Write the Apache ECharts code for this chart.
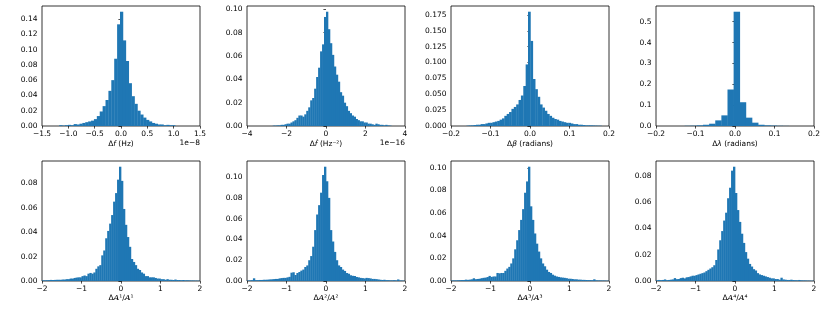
<!DOCTYPE html>
<html><head><meta charset="utf-8">
<script src="https://cdn.jsdelivr.net/npm/echarts@6/dist/echarts.min.js"></script>
<style>html,body{margin:0;padding:0;background:#fff}#c{width:830px;height:312px}</style>
</head><body><div id="c"></div>
<script>
// ---------- DATA ----------
// Panel order: row 1 = Δf, Δḟ, Δβ, Δλ ; row 2 = ΔA1/A1 .. ΔA4/A4
const binStart = [-1.174, -2.7, -0.161, -0.1275, -2, -2, -2, -2];
const binWidth = [0.055, 0.1, 0.006, 0.0155, 0.05, 0.05, 0.05, 0.05];

const histDf = [0.001,0.0005,0.001,0.0015,0.001,0.0025,0.002,0.003,0.004,0.005,0.006,0.007,0.009,0.013,0.019,0.026,0.034,0.046,0.060,0.088,0.133,
  0.1495,0.112,0.085,0.056,0.039,0.029,0.020,0.015,0.011,0.008,0.006,0.004,0.003,0.002,0.002,0.001,0.0015,0.001,0.001];
const histDfdot = [0.0003,0.0003,0.0005,0.0005,0.001,0.001,0.0015,0.002,0.002,0.003,0.004,0.005,0.007,0.009,0.009,0.008,0.010,0.013,0.016,0.022,0.024,0.032,0.042,0.050,0.064,0.070,0.0935,
  0.098,0.083,0.071,0.061,0.051,0.044,0.038,0.029,0.026,0.020,0.017,0.013,0.011,0.009,0.008,0.006,0.005,0.004,0.004,0.003,0.003,0.002,0.002,0.0015,0.001,0.002,0.0015,0.001,0.001,0.0005,0.001,0.0005,0.0003];
const histBeta = [0.0005,0.0008,0.001,0.0015,0.002,0.002,0.003,0.003,0.004,0.005,0.005,0.006,0.007,0.008,0.010,0.012,0.016,0.019,0.022,0.027,0.030,0.034,0.041,0.048,0.063,0.097,
  0.180,0.134,0.074,0.058,0.046,0.034,0.029,0.024,0.019,0.016,0.013,0.011,0.010,0.008,0.007,0.006,0.005,0.005,0.004,0.003,0.003,0.002,0.002,0.0015,0.001,0.001,0.001,0.0008,0.0006,0.0005,0.0004];
const histLambda = [0.001,0.0015,0.003,0.006,0.011,0.027,0.051,0.175,0.548,0.114,0.040,0.016,0.006,0.003,0.002,0.001,0.0005];
const histA1 = [0.0005,0.0005,0.0006,0.0007,0.0009,0.0008,0.0009,0.001,0.001,0.001,0.0012,0.0012,0.0015,0.0015,0.002,0.002,0.0025,0.0028,0.003,0.003,0.004,0.0045,0.004,0.006,0.0066,0.006,0.007,0.010,0.012,0.013,0.021,0.025,0.035,0.041,0.047,0.054,0.065,0.072,0.083,0.0936,
  0.082,0.059,0.046,0.036,0.028,0.018,0.0156,0.013,0.010,0.009,0.007,0.006,0.004,0.004,0.003,0.003,0.003,0.0025,0.002,0.002,0.0015,0.0015,0.001,0.0015,0.001,0.001,0.0008,0.0012,0.0008,0.0008,0.0006,0.0008,0.0005,0.0006,0.0005,0.0004,0.0004,0.0003,0.0003,0.0002];
const histA2 = [0.0005,0.0006,0.0008,0.0026,0.0008,0.0008,0.001,0.001,0.0012,0.0012,0.0013,0.0015,0.0016,0.0018,0.002,0.002,0.0025,0.0028,0.003,0.003,0.0035,0.004,0.008,0.0084,0.0058,0.0077,0.0087,0.010,0.011,0.0135,0.015,0.020,0.024,0.033,0.049,0.064,0.073,0.085,0.102,0.110,
  0.096,0.080,0.049,0.038,0.028,0.020,0.015,0.0135,0.011,0.0097,0.0077,0.007,0.0055,0.005,0.0048,0.0039,0.0035,0.003,0.0028,0.0025,0.003,0.0028,0.0025,0.002,0.002,0.0018,0.0015,0.0012,0.001,0.0012,0.0008,0.0008,0.0006,0.0006,0.0008,0.0005,0.0015,0.0005,0.0004,0.0003];
const histA3 = [0.0004,0.0005,0.0005,0.0006,0.0007,0.0008,0.0008,0.0012,0.001,0.0012,0.0015,0.0024,0.0016,0.0018,0.002,0.0025,0.0028,0.003,0.0035,0.0045,0.0036,0.004,0.004,0.0071,0.0068,0.0071,0.0071,0.009,0.011,0.0125,0.0155,0.020,0.028,0.036,0.045,0.054,0.0635,0.078,0.088,0.101,
  0.066,0.054,0.042,0.033,0.026,0.020,0.0155,0.013,0.010,0.008,0.0071,0.0056,0.0047,0.004,0.0036,0.0032,0.003,0.0028,0.0025,0.002,0.002,0.0018,0.0015,0.0015,0.0012,0.0012,0.001,0.001,0.0009,0.0008,0.0008,0.0007,0.0015,0.0006,0.0005,0.0005,0.0004,0.0004,0.0003,0.0003];
const histA4 = [0.0005,0.0008,0.0006,0.0008,0.0012,0.0006,0.0008,0.001,0.0012,0.0022,0.0014,0.0015,0.0022,0.0025,0.002,0.0028,0.003,0.0035,0.004,0.004,0.0045,0.005,0.0055,0.006,0.0065,0.0075,0.0085,0.0095,0.0105,0.012,0.016,0.024,0.031,0.038,0.046,0.052,0.063,0.071,0.084,0.087,
  0.067,0.054,0.045,0.036,0.029,0.022,0.017,0.013,0.011,0.009,0.008,0.006,0.005,0.0045,0.004,0.0035,0.003,0.0025,0.002,0.002,0.0015,0.0015,0.001,0.0025,0.0012,0.001,0.0008,0.0008,0.001,0.0007,0.0006,0.0005,0.0008,0.0005,0.0004,0.0004,0.0003,0.0003,0.0002,0.0002];

const xRange = [[-1.5,1.5],[-4,4],[-0.2,0.2],[-0.2,0.2],[-2,2],[-2,2],[-2,2],[-2,2]];
const xTicks = [[-1.5,-1.0,-0.5,0,0.5,1.0,1.5],[-4,-2,0,2,4],[-0.2,-0.1,0,0.1,0.2],[-0.2,-0.1,0,0.1,0.2],
  [-2,-1,0,1,2],[-2,-1,0,1,2],[-2,-1,0,1,2],[-2,-1,0,1,2]];
const yTicks = [[0,0.02,0.04,0.06,0.08,0.10,0.12,0.14],[0,0.02,0.04,0.06,0.08,0.10],[0,0.025,0.05,0.075,0.1,0.125,0.15,0.175],[0,0.1,0.2,0.3,0.4,0.5],
  [0,0.02,0.04,0.06,0.08],[0,0.02,0.04,0.06,0.08,0.10],[0,0.02,0.04,0.06,0.08,0.10],[0,0.02,0.04,0.06,0.08]];
const xDecimals = [1,0,1,1,0,0,0,0];
const yDecimals = [2,2,3,1,2,2,2,2];
const xTitles = ['{n|Δ}{i|f}{n| (Hz)}','{n|Δ}{i|ḟ}{n| (Hz⁻²)}','{n|Δ}{i|β}{n| (radians)}','{n|Δ}{i|λ}{n| (radians)}',
  '{n|Δ}{a|A}{n|¹/}{a|A}{n|¹}','{n|Δ}{a|A}{n|²/}{a|A}{n|²}','{n|Δ}{a|A}{n|³/}{a|A}{n|³}','{n|Δ}{a|A}{n|⁴/}{a|A}{n|⁴}'];
const offsetTexts = ['1e−8','1e−16','','','','','',''];
const hists = [histDf, histDfdot, histBeta, histLambda, histA1, histA2, histA3, histA4];

// ---------- LAYOUT ----------
const colLeft = [42, 247, 451, 656];
const rowTop = [6, 161];
const W = 158, H = 120;
const FS = 7.5;
const FONT = 'DejaVu Sans';
const fmt = (v, d) => (v < 0 ? '\u2212' : '') + Math.abs(v).toFixed(d);

const grids = [], xAxes = [], yAxes = [], series = [], graphics = [];
hists.forEach((vals, i) => {
  const r = Math.floor(i / 4), c = i % 4;
  grids.push({left: colLeft[c], top: rowTop[r], width: W, height: H, show: true,
    borderColor: '#000', borderWidth: 0.8, backgroundColor: 'transparent', containLabel: false});
  xAxes.push({type: 'value', gridIndex: i, min: xRange[i][0], max: xRange[i][1],
    axisLine: {show: false}, splitLine: {show: false},
    axisTick: {show: true, length: 2.6, customValues: xTicks[i], lineStyle: {color: '#000', width: 0.7}},
    axisLabel: {show: true, customValues: xTicks[i], margin: 4.5, color: '#000', fontSize: FS, fontFamily: FONT,
      formatter: v => fmt(v, xDecimals[i])},
    name: xTitles[i], nameLocation: 'middle', nameGap: r === 0 ? 14 : 12,
    nameTextStyle: {color: '#000', fontSize: FS, fontFamily: FONT,
      rich: {n: {fontSize: FS, fontFamily: FONT, color: '#000'},
             i: {fontSize: FS, fontFamily: FONT, fontStyle: 'italic', color: '#000'},
             a: {fontSize: FS + 0.5, fontFamily: 'DejaVu Serif', fontStyle: 'italic', color: '#000'}}}
  });
  const peak = Math.max(...vals);
  yAxes.push({type: 'value', gridIndex: i, min: 0, max: peak * 1.05,
    axisLine: {show: false}, splitLine: {show: false},
    axisTick: {show: true, length: 2.6, customValues: yTicks[i], lineStyle: {color: '#000', width: 0.7}},
    axisLabel: {show: true, customValues: yTicks[i], margin: 4.5, color: '#000', fontSize: FS, fontFamily: FONT,
      formatter: v => fmt(v, yDecimals[i])}
  });
  const data = vals.map((v, k) => [binStart[i] + k * binWidth[i], binStart[i] + (k + 1) * binWidth[i], v]);
  series.push({type: 'custom', xAxisIndex: i, yAxisIndex: i, clip: true, silent: true,
    encode: {x: [0, 1], y: 2}, data: data,
    renderItem: (params, api) => {
      const p0 = api.coord([api.value(0), api.value(2)]);
      const p1 = api.coord([api.value(1), 0]);
      return {type: 'rect', shape: {x: p0[0], y: p0[1], width: p1[0] - p0[0] + 0.35, height: p1[1] - p0[1]},
        style: {fill: '#1f77b4'}};
    }
  });
  if (offsetTexts[i]) {
    graphics.push({type: 'text', x: colLeft[c] + W, y: rowTop[r] + H + 17.5,
      style: {text: offsetTexts[i], align: 'right', verticalAlign: 'middle', fill: '#000', fontSize: FS, fontFamily: FONT}});
  }
});

const chart = echarts.init(document.getElementById('c'), null, {renderer: 'canvas'});
chart.setOption({animation: false, backgroundColor: '#fff', grid: grids, xAxis: xAxes, yAxis: yAxes, series: series, graphic: graphics});
</script></body></html>
